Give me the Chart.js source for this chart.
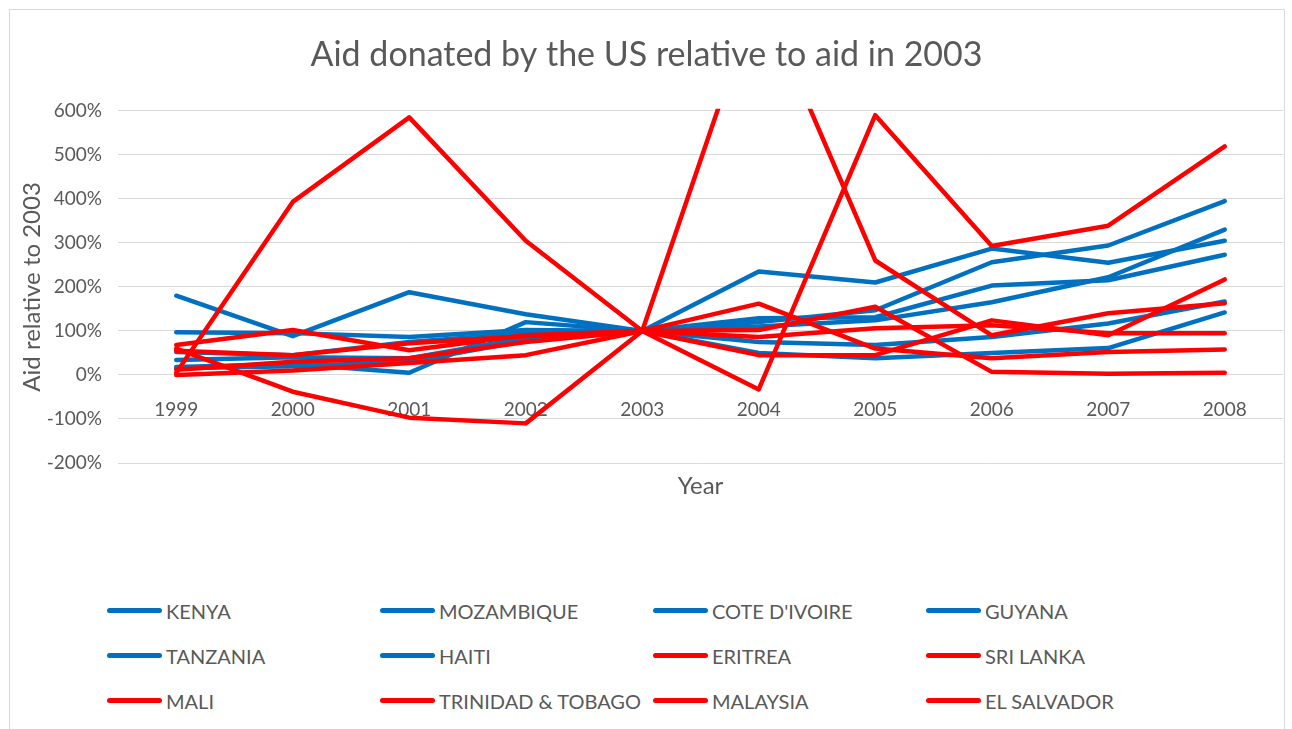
<!DOCTYPE html>
<html lang="en">
<head>
<meta charset="UTF-8">
<title>Aid donated by the US relative to aid in 2003</title>
<script src="https://cdn.jsdelivr.net/npm/chart.js"></script>
<style>
    body { margin: 0; background: #fff; font-family: Lato, sans-serif; }
    .frame {
        position: absolute; left: 9px; top: 9px;
        width: 1274px; height: 800px;
        border: 1px solid #d9d9d9;
    }
    #chartBox { position: absolute; left: 0; top: 0; width: 1274px; height: 500px; }
    .legend {
        position: absolute; left: 97px; top: 578px;
        display: grid; grid-template-columns: repeat(4, 273px);
        grid-auto-rows: 45px;
    }
    .legend div { display: flex; align-items: center; font-size: 20px; color: #595959; white-space: nowrap; }
    .legend span.sw { width: 55px; height: 5px; border-radius: 3px; margin-right: 4px; flex: none; }
</style>
</head>
<body>
<div class="frame">
    <div id="chartBox"><canvas id="aidChart"></canvas></div>
    <div class="legend" id="legend"></div>
</div>

<script>
    // Datos: ayuda relativa a 2003 (%)
    const years = ['1999', '2000', '2001', '2002', '2003', '2004', '2005', '2006', '2007', '2008'];
    const countries = ['KENYA', 'MOZAMBIQUE', "COTE D'IVOIRE", 'GUYANA', 'TANZANIA', 'HAITI',
        'ERITREA', 'SRI LANKA', 'MALI', 'TRINIDAD & TOBAGO', 'MALAYSIA', 'EL SALVADOR'];

    const kenya = [180, 88, 188, 138, 100, 235, 210, 287, 255, 305];
    const mozambique = [34, 40, 38, 84, 100, 120, 147, 256, 294, 395];
    const coteDIvoire = [52, 45, 75, 95, 100, 129, 131, 203, 215, 273];
    const guyana = [18, 25, 5, 120, 100, 110, 124, 165, 222, 330];
    const tanzania = [97, 95, 86, 102, 100, 75, 68, 86, 117, 167];
    const haiti = [15, 20, 30, 78, 100, 50, 38, 50, 61, 142];
    const eritrea = [5, 393, 585, 305, 100, -33, 590, 293, 339, 519];
    const sriLanka = [60, -38, -97, -110, 100, 875, 260, 90, 140, 163];
    const mali = [0, 10, 27, 45, 100, 45, 45, 124, 90, 217];
    const trinidad = [68, 102, 56, 90, 100, 86, 106, 113, 95, 95];
    const malaysia = [55, 45, 72, 88, 100, 162, 60, 38, 52, 58];
    const elSalvador = [12, 30, 38, 75, 100, 102, 155, 7, 3, 5];

    const yTicks = [-200, -100, 0, 100, 200, 300, 400, 500, 600];

    const series = [kenya, mozambique, coteDIvoire, guyana, tanzania, haiti,
        eritrea, sriLanka, mali, trinidad, malaysia, elSalvador];
    const blue = '#0070C0';
    const red = '#FF0000';
    const gray = '#595959';

    const datasets = series.map((d, i) => ({
        label: countries[i],
        data: d,
        borderColor: i < 6 ? blue : red,
        backgroundColor: i < 6 ? blue : red,
        borderWidth: 4.5,
        borderCapStyle: 'round',
        borderJoinStyle: 'round',
        pointRadius: 0,
        tension: 0,
        clip: 2,
        order: 12 - i
    }));

    const ctx = document.getElementById('aidChart').getContext('2d');
    new Chart(ctx, {
        type: 'line',
        data: { labels: years, datasets: datasets },
        options: {
            responsive: true,
            maintainAspectRatio: false,
            animation: false,
            layout: { padding: { left: 0, right: 1, top: 0, bottom: 5.6 } },
            plugins: {
                legend: { display: false },
                tooltip: { enabled: false },
                title: {
                    display: true,
                    text: 'Aid donated by the US relative to aid in 2003',
                    color: gray,
                    font: { family: 'Lato', size: 34, weight: 'normal' },
                    padding: { top: 25, bottom: 35 }
                }
            },
            scales: {
                x: {
                    type: 'category',
                    position: { y: 0 },
                    offset: true,
                    grid: { display: false, drawTicks: false },
                    border: { display: false },
                    ticks: { color: gray, font: { family: 'Lato', size: 19 }, padding: 24, maxRotation: 0 }
                },
                xTitle: {
                    type: 'category',
                    position: 'bottom',
                    labels: years,
                    grid: { display: false, drawTicks: false },
                    border: { display: false },
                    ticks: { display: false },
                    title: {
                        display: true, text: 'Year', color: gray,
                        font: { family: 'Lato', size: 24 },
                        padding: { top: 8.6, bottom: 4 }
                    }
                },
                y: {
                    min: -200,
                    max: 600,
                    afterFit: s => { s.width = 108; },
                    afterBuildTicks: s => { s.ticks = yTicks.map(v => ({ value: v })); },
                    grid: { color: '#d9d9d9', lineWidth: 1, drawTicks: false },
                    border: { display: false },
                    ticks: {
                        color: gray, font: { family: 'Lato', size: 19 }, padding: 16,
                        callback: v => v + '%'
                    },
                    title: {
                        display: true, text: 'Aid relative to 2003', color: gray,
                        font: { family: 'Lato', size: 24 },
                        padding: { top: 7.6, bottom: 0 }
                    }
                }
            }
        }
    });

    // Leyenda en cuadrícula 4 columnas
    const legend = document.getElementById('legend');
    datasets.forEach(ds => {
        const item = document.createElement('div');
        item.innerHTML = '<span class="sw" style="background:' + ds.borderColor + '"></span>' + ds.label
            .replace(/&/g, '&amp;');
        legend.appendChild(item);
    });
</script>
</body>
</html>
